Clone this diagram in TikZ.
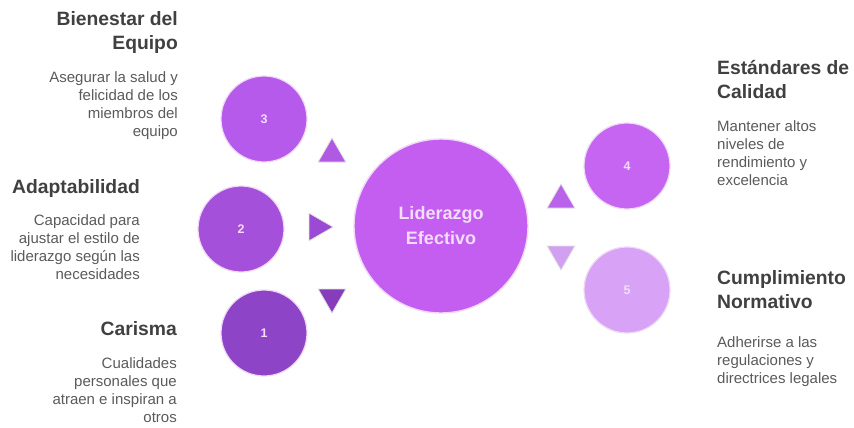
\documentclass[tikz,border=0pt]{standalone}
\usepackage{fontspec}
\setmainfont{Liberation Sans}
\usetikzlibrary{shapes.geometric}
\definecolor{cCenter}{HTML}{C35EF0}
\definecolor{cOne}{HTML}{8E44C6}
\definecolor{cTwo}{HTML}{A450DA}
\definecolor{cThree}{HTML}{B65AEB}
\definecolor{cFour}{HTML}{C565F2}
\definecolor{cFive}{HTML}{D8A3F6}
\definecolor{tOne}{HTML}{873DBB}
\definecolor{tTwo}{HTML}{9A4AD3}
\definecolor{tThree}{HTML}{B05AE3}
\definecolor{tFour}{HTML}{B863EA}
\definecolor{tFive}{HTML}{D2A0F0}
\definecolor{titleCol}{HTML}{404040}
\definecolor{descCol}{HTML}{5A5A5A}
\definecolor{numCol}{HTML}{F3DDFA}
\definecolor{ringCol}{HTML}{EFD9F7}
\tikzset{
  bubble/.style={circle, minimum size=86pt, inner sep=0pt, draw=ringCol, line width=1.2pt,
    text=numCol, font=\fontsize{12.5}{14}\selectfont\bfseries},
  tri/.style={regular polygon, regular polygon sides=3, minimum size=32pt, inner sep=0pt,
    draw=black!12, line width=0.8pt},
  ttl/.style={inner sep=0pt, text=titleCol, font=\fontsize{19.3}{24.5}\selectfont\bfseries},
  dsc/.style={inner sep=0pt, text=descCol, font=\fontsize{15}{18}\selectfont},
}
\begin{document}
\begin{tikzpicture}[x=1pt,y=-1pt]
\useasboundingbox (0,0) rectangle (854,428);
% center
\node[circle, minimum size=174pt, inner sep=0pt, fill=cCenter, draw=ringCol, line width=1.4pt,
  text=numCol, align=center, font=\fontsize{18}{25}\selectfont\bfseries] (center) at (441,226) {Liderazgo\\Efectivo};
% circles
\node[bubble, fill=cThree] (c3) at (264,119) {3};
\node[bubble, fill=cTwo]   (c2) at (241,229) {2};
\node[bubble, fill=cOne]   (c1) at (264,333) {1};
\node[bubble, fill=cFour]  (c4) at (627,166) {4};
\node[bubble, fill=cFive]  (c5) at (627,290) {5};
% triangles
\node[tri, fill=tThree] (t3) at (332,154) {};
\node[tri, fill=tTwo, shape border rotate=-90] (t2) at (317,227) {};
\node[tri, fill=tOne, shape border rotate=180] (t1) at (332,297) {};
\node[tri, fill=tFour] (t4) at (561,200) {};
\node[tri, fill=tFive, shape border rotate=180] (t5) at (561,254) {};
% left texts
\node[ttl, anchor=north east, align=right] (h3) at (178,11) {Bienestar del\\Equipo};
\node[dsc, anchor=north east, align=right] (d3) at (178,71) {Asegurar la salud y\\felicidad de los\\miembros del\\equipo};
\node[ttl, anchor=north east, align=right] (h2) at (140,179) {Adaptabilidad};
\node[dsc, anchor=north east, align=right] (d2) at (140,214) {Capacidad para\\ajustar el estilo de\\liderazgo según las\\necesidades};
\node[ttl, anchor=north east, align=right] (h1) at (177,321) {Carisma};
\node[dsc, anchor=north east, align=right] (d1) at (177,357) {Cualidades\\personales que\\atraen e inspiran a\\otros};
% right texts
\node[ttl, anchor=north west, align=left] (h4) at (717,60) {Estándares de\\Calidad};
\node[dsc, anchor=north west, align=left] (d4) at (717,120) {Mantener altos\\niveles de\\rendimiento y\\excelencia};
\node[ttl, anchor=north west, align=left] (h5) at (717,270) {Cumplimiento\\Normativo};
\node[dsc, anchor=north west, align=left] (d5) at (717,336) {Adherirse a las\\regulaciones y\\directrices legales};
\end{tikzpicture}
\end{document}
